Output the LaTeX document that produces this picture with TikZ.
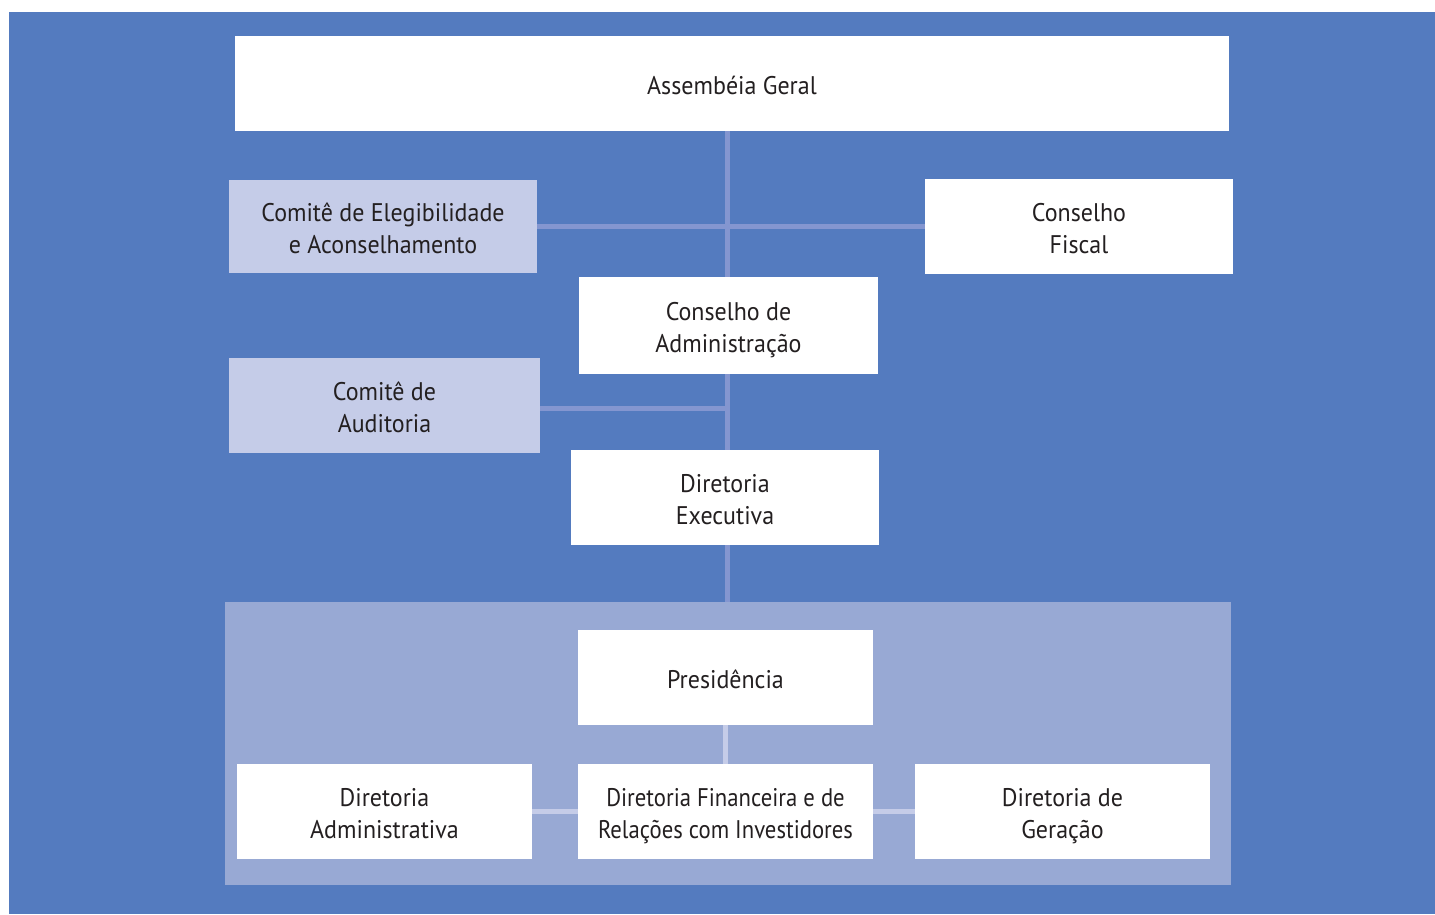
\documentclass[tikz,border=0pt]{standalone}
\usepackage{fontspec}
\setmainfont[FakeStretch=0.94]{PT Sans}
\newfontfamily\tightfont[FakeStretch=0.89]{PT Sans}
\newcommand{\mylines}[1]{\raisebox{-4.5pt}[\height][\depth]{\begin{tabular}{@{}c@{}}#1\end{tabular}}}
\definecolor{bgblue}{HTML}{547BBF}
\definecolor{lineblue}{HTML}{8496D0}
\definecolor{lightbox}{HTML}{C5CCE8}
\definecolor{panelblue}{HTML}{98A9D4}
\definecolor{txt}{HTML}{231F20}
\tikzset{
  box/.style={rectangle, draw=none, fill=white, inner sep=0pt, align=center,
    text=txt, font=\fontsize{25.5}{32}\selectfont},
  lbox/.style={box, fill=lightbox},
  mainline/.style={draw=lineblue, line width=5pt},
  subline/.style={draw=lightbox, line width=5pt},
}
\begin{document}
\begin{tikzpicture}[x=1pt,y=-1pt]
\useasboundingbox (0,0) rectangle (1435,914);
\fill[white] (0,0) rectangle (1435,914);
\fill[bgblue] (9,12) rectangle (1435,914);
\node[fill=panelblue, minimum width=1006pt, minimum height=283pt, inner sep=0pt] (panel) at (728,743.5) {};
\coordinate (sp) at (727,0);
% nodes
\node[box, minimum width=994pt, minimum height=95pt] (ag) at (732,83.5) {\mylines{Assembéia Geral}};
\node[lbox, minimum width=308pt, minimum height=93pt] (cea) at (383,226.5) {\mylines{Comitê de Elegibilidade\\e Aconselhamento}};
\node[box, minimum width=308pt, minimum height=95pt] (cf) at (1079,226.5) {\mylines{Conselho\\Fiscal}};
\node[box, minimum width=299pt, minimum height=97pt] (ca) at (728.5,325.5) {\mylines{Conselho de\\Administração}};
\node[lbox, minimum width=311pt, minimum height=95pt] (caud) at (384.5,405.5) {\mylines{Comitê de\\Auditoria}};
\node[box, minimum width=308pt, minimum height=95pt] (de) at (725,497.5) {\mylines{Diretoria\\Executiva}};
\node[box, minimum width=295pt, minimum height=95pt] (pres) at (725.5,677.5) {\mylines{Presidência}};
\node[box, minimum width=295pt, minimum height=95pt] (dadm) at (384.5,811.5) {\mylines{Diretoria\\Administrativa}};
\node[box, minimum width=295pt, minimum height=95pt] (dfin) at (725.5,811.5) {\tightfont\mylines{Diretoria Financeira e de\\Relações com Investidores}};
\node[box, minimum width=295pt, minimum height=95pt] (dger) at (1062.5,811.5) {\mylines{Diretoria de\\Geração}};
% connectors
\draw[mainline] (ag.south -| sp) -- (ca.north -| sp);
\draw[mainline] (ca.south -| sp) -- (de.north -| sp);
\draw[mainline] (de.south -| sp) -- (panel.north -| sp);
\draw[mainline] (cea.east) -- (cf.west);
\draw[mainline] ([yshift=-2.5pt]caud.east) -- ([yshift=-2.5pt]caud.east -| sp);
\draw[subline] (pres.south -| dfin) -- (dfin.north);
\draw[subline] (dadm.east) -- (dfin.west);
\draw[subline] (dfin.east) -- (dger.west);
\end{tikzpicture}
\end{document}
